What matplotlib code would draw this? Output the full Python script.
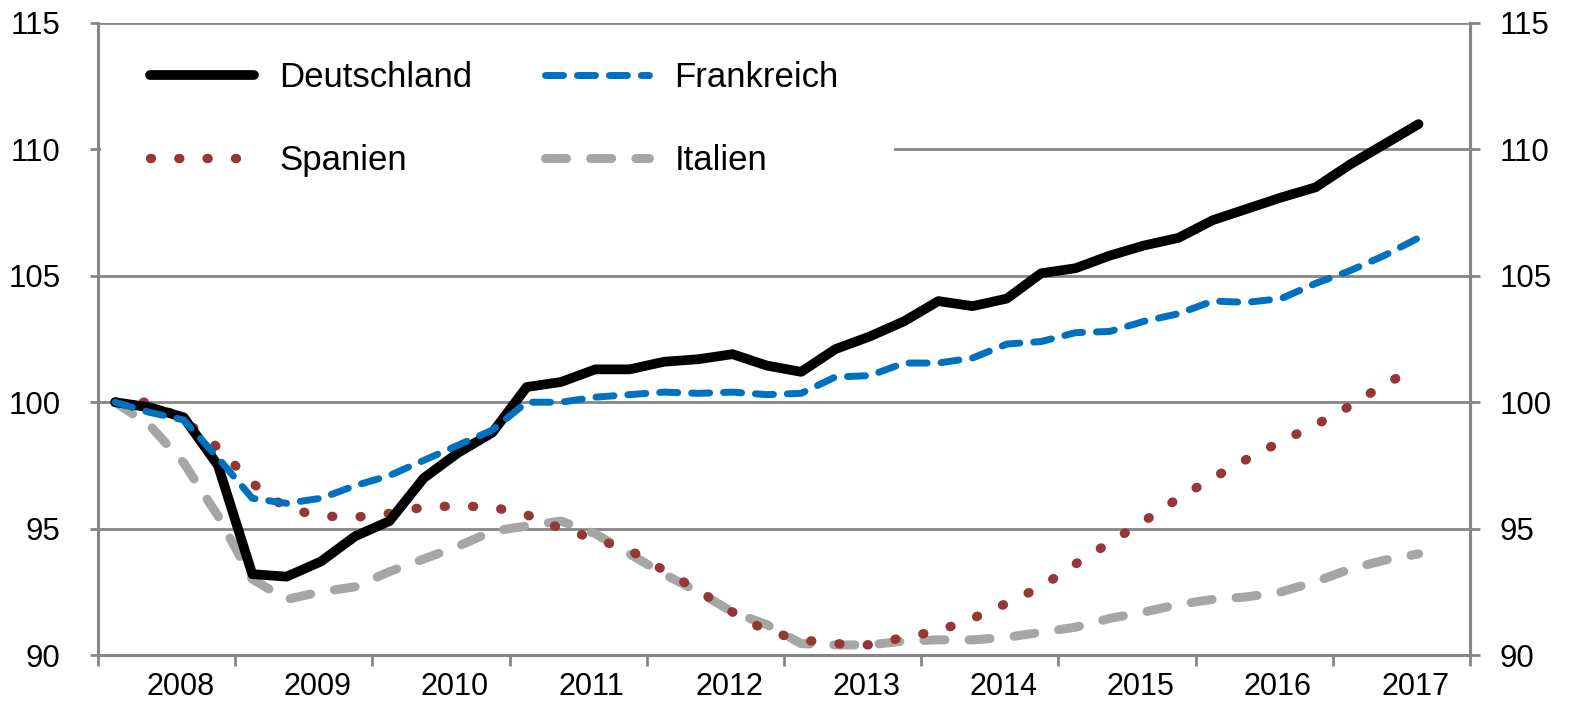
import matplotlib.pyplot as plt
import numpy as np
from matplotlib.patches import Rectangle

plt.rcParams['font.family'] = ['Liberation Sans', 'DejaVu Sans']

# Reales BIP, Index 2008 Q1 = 100, quartalsweise 2008 Q1 .. 2017 Q3
years = ['2008', '2009', '2010', '2011', '2012', '2013', '2014', '2015', '2016', '2017']
quarters = [y + 'Q' + str(q) for y in years for q in range(1, 5)][:39]

deutschland = [100.0, 99.8, 99.4, 97.5, 93.2, 93.1, 93.7, 94.7, 95.3, 97.0,
               98.0, 98.8, 100.6, 100.8, 101.3, 101.3, 101.6, 101.7, 101.9, 101.45,
               101.2, 102.1, 102.6, 103.2, 104.0, 103.8, 104.1, 105.1, 105.3, 105.8,
               106.2, 106.5, 107.2, 107.65, 108.1, 108.5, 109.4, 110.2, 111.0]
frankreich = [100.0, 99.6, 99.3, 97.8, 96.2, 96.0, 96.2, 96.7, 97.1, 97.7,
              98.3, 98.9, 100.0, 100.0, 100.2, 100.3, 100.4, 100.35, 100.4, 100.3,
              100.35, 101.0, 101.05, 101.55, 101.55, 101.75, 102.3, 102.4, 102.75, 102.8,
              103.2, 103.5, 104.0, 103.95, 104.1, 104.7, 105.2, 105.8, 106.5]
spanien = [100.0, 100.0, 99.3, 98.2, 96.8, 95.8, 95.5, 95.45, 95.6, 95.85,
           95.9, 95.85, 95.55, 95.0, 94.6, 94.15, 93.35, 92.55, 91.7, 90.95,
           90.6, 90.45, 90.4, 90.7, 90.95, 91.45, 92.05, 92.7, 93.6, 94.45,
           95.3, 96.2, 97.0, 97.75, 98.45, 99.1, 99.85, 100.7, 101.4]
italien = [100.0, 99.1, 97.6, 95.5, 93.0, 92.2, 92.5, 92.7, 93.3, 93.8,
           94.3, 94.9, 95.1, 95.3, 94.8, 94.0, 93.2, 92.5, 91.7, 91.2,
           90.45, 90.4, 90.4, 90.55, 90.6, 90.6, 90.7, 90.9, 91.1, 91.45,
           91.7, 92.0, 92.2, 92.3, 92.5, 92.9, 93.4, 93.75, 94.0]

yticks = [90, 95, 100, 105, 110, 115]

grey = '#868686'
x = np.arange(len(quarters)) + 0.5

fig = plt.figure(figsize=(15.72, 7.14), dpi=100)
ax = fig.add_axes([0.0623, 0.0826, 0.8728, 0.8852])

ax.plot(x, italien, color='#a6a6a6', lw=6.5, linestyle=(0, (2.33, 2.67)),
        dash_capstyle='round', label='Italien', zorder=3)
ax.plot(x, spanien, color='#953735', lw=6.8, linestyle=(0, (0.1, 2.9)),
        dash_capstyle='round', label='Spanien', zorder=4)
ax.plot(x, deutschland, color='black', lw=7, solid_capstyle='round',
        solid_joinstyle='round', label='Deutschland', zorder=5)
ax.plot(x, frankreich, color='#0070c0', lw=5, linestyle=(0, (2.6, 2.0)),
        dash_capstyle='round', label='Frankreich', zorder=6)

ax.set_xlim(0, 40)
ax.set_ylim(90, 115)
ax.set_yticks(yticks)
ax.set_xticks(np.arange(0, 41, 4))
ax.set_xticklabels([])
ax.set_xticks(np.arange(len(years)) * 4 + 2.4, minor=True)
ax.set_xticklabels(years, minor=True)

ax.grid(axis='y', color=grey, lw=2)
ax.set_axisbelow(True)
ax.spines['top'].set_visible(False)
for s in ['left', 'right', 'bottom']:
    ax.spines[s].set_color(grey)
    ax.spines[s].set_linewidth(2.2)

ax.tick_params(axis='y', length=6, width=2, color=grey, labelsize=22.5, pad=21)
ax.tick_params(axis='x', which='major', length=8, width=2, color=grey)
ax.tick_params(axis='x', which='minor', length=0, labelsize=22, pad=12)

ax2 = ax.twinx()
ax2.set_ylim(90, 115)
ax2.set_yticks(yticks)
for s in ['top', 'left', 'bottom']:
    ax2.spines[s].set_visible(False)
ax2.spines['right'].set_color(grey)
ax2.spines['right'].set_linewidth(2.2)
ax2.tick_params(axis='y', length=7, width=2, color=grey, labelsize=22.5, pad=14)

# white box behind the legend hides part of the 110 gridline
ax.add_patch(Rectangle((0.002, 0.74), 0.578, 0.225, transform=ax.transAxes,
                       facecolor='white', edgecolor='none', zorder=1))

h, l = ax.get_legend_handles_labels()
order = [2, 1, 3, 0]
ax.legend([h[i] for i in order], [l[i] for i in order], ncol=2,
          loc='upper left', bbox_to_anchor=(0.038, 0.94), frameon=False,
          fontsize=25, handlelength=3.0, handletextpad=0.72,
          columnspacing=2.1, labelspacing=1.45, borderaxespad=0, borderpad=0)

fig.savefig('out.png', dpi=100)
